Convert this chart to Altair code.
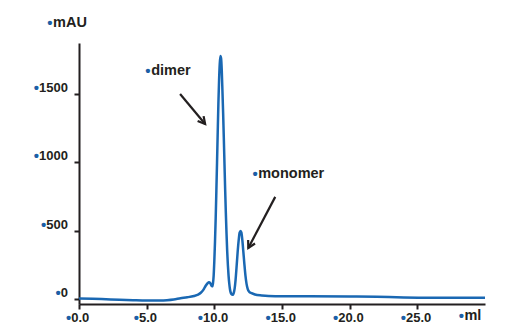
import math
import altair as alt
import pandas as pd

# ---------------- data ----------------
volume_ml = [0.0, 1.0, 2.0, 3.0, 4.0, 5.0, 6.0, 6.5, 7.0, 7.5, 8.0, 8.5, 8.8, 9.0, 9.2,
             9.35, 9.5, 9.6, 9.7, 9.78, 9.85, 9.9, 9.95, 10.0, 10.05, 10.1, 10.15, 10.2,
             10.25, 10.3, 10.35, 10.4, 10.45, 10.5, 10.55, 10.6, 10.65, 10.7, 10.75, 10.8,
             10.85, 10.9, 10.95, 11.0, 11.05, 11.1, 11.15, 11.2, 11.27, 11.35, 11.42, 11.5,
             11.57, 11.64, 11.72, 11.8, 11.87, 11.94, 12.0, 12.07, 12.14, 12.22, 12.3,
             12.38, 12.47, 12.58, 12.75, 13.0, 13.5, 14.0, 15.0, 17.0, 20.0, 22.0, 24.0,
             26.0, 28.0, 30.0]
absorbance_mau = [3, 2, -2, -6, -9, -11, -11, -9, -4, 5, 12, 22, 32, 45, 68,
                  95, 115, 122, 115, 98, 92, 115, 170, 280, 420, 590, 790, 1000,
                  1220, 1430, 1600, 1720, 1778, 1760, 1670, 1520, 1360, 1180, 990, 800,
                  630, 480, 350, 250, 172, 115, 75, 50, 35, 30, 40, 75,
                  140, 230, 340, 430, 485, 497, 485, 430, 350, 255, 170,
                  110, 72, 52, 42, 33, 26, 22, 20, 20, 18, 16, 11,
                  9, 9, 9]

x_ticks = [0, 5, 10, 15, 20, 25]
y_ticks = [0, 500, 1000, 1500]

ann_words = ["dimer", "monomer"]
ann_x = [5.33, 13.24]
ann_y = [1668, 914]

arrow_x1 = [7.47, 14.50]
arrow_y1 = [1500, 747]
arrow_x2 = [9.32, 12.51]
arrow_y2 = [1280, 373]

axis_titles = ["mAU", "ml"]
axis_title_x = [-1.92, 28.48]
axis_title_y = [2019, -128]

# ---------------- layout / style ----------------
W, H = 406, 261
X_DOM = [0, 30]
Y_DOM = [-37, 1873]
INK = "#231f20"
LINE = "#1a68b3"
DOT = "#1c5fa6"
FONT = "Liberation Sans"
NUM_SIZE = 13
DOT_SIZE = 15
WORD_SIZE = 14.5
DIGIT_W = 0.556 * NUM_SIZE
px_x = W / (X_DOM[1] - X_DOM[0])
px_y = H / (Y_DOM[1] - Y_DOM[0])

x_axis = alt.Axis(values=x_ticks, labels=False, title=None, grid=False, tickSize=5,
                  tickWidth=2, domainWidth=2, domainColor=INK, tickColor=INK)
y_axis = alt.Axis(values=y_ticks, labels=False, title=None, grid=False, tickSize=5,
                  tickWidth=2, domainWidth=2, domainColor=INK, tickColor=INK)


def X(field):
    return alt.X(field, type="quantitative",
                 scale=alt.Scale(domain=X_DOM, nice=False, zero=False), axis=x_axis)


def Y(field):
    return alt.Y(field, type="quantitative",
                 scale=alt.Scale(domain=Y_DOM, nice=False, zero=False), axis=y_axis)


curve = pd.DataFrame({"x": volume_ml, "y": absorbance_mau})

line = alt.Chart(curve).mark_line(color=LINE, strokeWidth=2.5, interpolate="monotone").encode(
    x=X("x"), y=Y("y")
)

# arrows
arrows = pd.DataFrame({"x1": arrow_x1, "y1": arrow_y1, "x2": arrow_x2, "y2": arrow_y2})
arrows["angle"] = [
    (math.degrees(math.atan2(-(b2 - b1) * px_y, (a2 - a1) * px_x)) + 360) % 360
    for a1, b1, a2, b2 in zip(arrow_x1, arrow_y1, arrow_x2, arrow_y2)
]
shafts = alt.Chart(arrows).mark_rule(color=INK, strokeWidth=2.2).encode(
    x=X("x1"), y=Y("y1"), x2="x2", y2="y2"
)
heads = alt.Chart(arrows).mark_point(
    shape="M-1,-0.55L0,0L-1,0.55", filled=False, size=200, strokeWidth=2.2,
    color=INK, opacity=1
).encode(x=X("x2"), y=Y("y2"), angle=alt.Angle("angle:Q", scale=None))

# x tick labels with blue bullets (label block "•n.n" centred under its tick)
xt = pd.DataFrame({"v": x_ticks})
xt["label"] = [f"{v:.1f}" for v in x_ticks]
xt["xa"] = [v + (1.3 - (len(s) * DIGIT_W - 0.278 * NUM_SIZE) / 2) / px_x
            for v, s in zip(x_ticks, xt["label"])]
x_nums = alt.Chart(xt).mark_text(
    align="left", baseline="middle", font=FONT, fontWeight="bold", fontSize=NUM_SIZE,
    color=INK, dy=14
).encode(x=X("xa"), y=alt.value(H), text="label:N")
x_dots = alt.Chart(xt).mark_text(
    align="right", baseline="middle", font=FONT, fontWeight="bold", fontSize=DOT_SIZE,
    color=DOT, dy=14, text="•"
).encode(x=X("xa"), y=alt.value(H))

# y tick labels with blue bullets
yt = pd.DataFrame({"v": y_ticks})
yt["label"] = [str(v) for v in y_ticks]
yt["off"] = [-11 - len(s) * DIGIT_W for s in yt["label"]]
y_nums = alt.Chart(yt).mark_text(
    align="right", baseline="middle", font=FONT, fontWeight="bold", fontSize=NUM_SIZE,
    color=INK, dx=-11, dy=-6
).encode(x=alt.value(0), y=Y("v"), text="label:N")
y_dots = alt.Chart(yt).mark_text(
    align="right", baseline="middle", font=FONT, fontWeight="bold", fontSize=DOT_SIZE,
    color=DOT, dy=-6, text="•"
).encode(x=alt.value(0), y=Y("v"), xOffset=alt.XOffset("off:Q", scale=None))

# word annotations (peak names and axis units)
words = pd.DataFrame({
    "x": ann_x + axis_title_x,
    "y": ann_y + axis_title_y,
    "word": ann_words + axis_titles,
})
word_text = alt.Chart(words).mark_text(
    align="left", baseline="middle", font=FONT, fontWeight="bold", fontSize=WORD_SIZE,
    color=INK
).encode(x=X("x"), y=Y("y"), text="word:N")
word_dots = alt.Chart(words).mark_text(
    align="right", baseline="middle", font=FONT, fontWeight="bold", fontSize=DOT_SIZE,
    color=DOT, dx=-0.5, text="•"
).encode(x=X("x"), y=Y("y"))

chart = alt.layer(
    line, shafts, heads, x_nums, x_dots, y_nums, y_dots, word_text, word_dots
).properties(
    width=W, height=H,
    autosize=alt.AutoSizeParams(type="none"),
    padding={"left": 79, "top": 43, "right": 24, "bottom": 29},
    background="white",
).configure_view(stroke=None)

chart.save("out.html", embed_options={"renderer": "svg", "actions": False})
